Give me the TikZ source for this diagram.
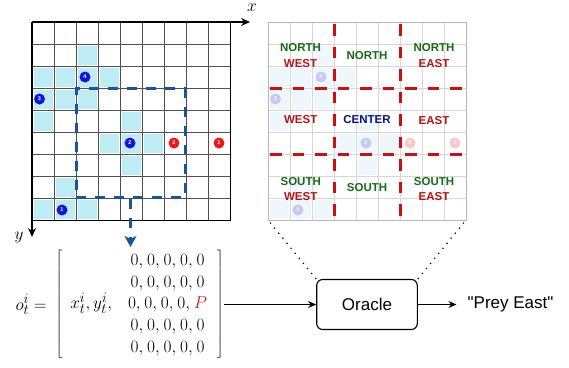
\documentclass[tikz,border=0pt]{standalone}
\usepackage{fontspec}
\setsansfont{Liberation Sans}
\usetikzlibrary{arrows.meta}
\definecolor{cellc}{RGB}{190,236,244}
\definecolor{gridc}{RGB}{80,80,80}
\definecolor{winblue}{RGB}{25,85,155}
\definecolor{agblue}{RGB}{20,20,225}
\definecolor{agred}{RGB}{235,25,25}
\definecolor{fgrid}{RGB}{215,215,215}
\definecolor{fcell}{RGB}{237,247,252}
\definecolor{fblue}{RGB}{200,200,242}
\definecolor{fred}{RGB}{250,200,200}
\definecolor{regred}{RGB}{205,15,15}
\definecolor{labred}{RGB}{185,20,20}
\definecolor{labgreen}{RGB}{25,105,25}
\definecolor{labnavy}{RGB}{15,15,135}
\definecolor{pred}{RGB}{215,25,25}
\newcommand\sq{\XeTeXglyph\XeTeXcharglyph"22\relax}
\newcommand\zrow{0,\mkern1mu 0,\mkern1mu 0,\mkern1mu 0,\mkern1mu 0}
\tikzset{
  agent/.style={circle, inner sep=0pt, minimum size=11pt, text=white, font=\fontsize{5.5}{6}\sffamily\bfseries},
  region/.style={align=center, font=\fontsize{11.5}{15.5}\sffamily\bfseries},
  regline/.style={regred, line width=3pt, dash pattern=on 11.5pt off 11pt},
  winline/.style={winblue, line width=3pt, dash pattern=on 10pt off 9pt},
  conn/.style={line width=1.1pt, -{Stealth[length=8pt,width=7pt]}},
  axisline/.style={line width=1.4pt, -{Stealth[length=9pt,width=8pt]}},
  dotl/.style={line width=1.7pt, dash pattern=on 0pt off 6.5pt, line cap=round},
  mathtxt/.style={inner sep=0pt, font=\fontsize{19}{21.7}\selectfont},
}
\begin{document}
\begin{tikzpicture}[x=1pt,y=-1pt]
\useasboundingbox (0,0) rectangle (569,367);
% ---------- left grid
\begin{scope}[shift={(32,22)}]
  \foreach \c/\r in {2/1,0/2,1/2,2/2,3/2,0/3,1/3,2/3,0/4,4/4,3/5,4/5,5/5,4/6,1/7,0/8,1/8,2/8}
    \fill[cellc] ({22*\c+1.5},{22*\r+1.5}) rectangle ++(19,19);
  \foreach \i in {1,...,8} {
    \draw[gridc, line width=0.8pt] ({22*\i},0) -- ({22*\i},198);
    \draw[gridc, line width=0.8pt] (0,{22*\i}) -- (198,{22*\i});
  }
  \draw[line width=1pt] (198,0) -- (198,198) -- (0,198);
\end{scope}
\coordinate (O) at (32,22);
\coordinate (xe) at (250,22);
\coordinate (ye) at (32,237);
\draw[axisline] (O) -- (xe);
\draw[axisline] (O) -- (ye);
\node[inner sep=0pt] (xl) at (252,8) {\fontsize{18}{20}\selectfont$x$};
\node[inner sep=0pt] (yl) at (19,237) {\fontsize{18}{20}\selectfont$y$};
\node[agent, fill=agblue] (a4) at (85,77) {4};
\node[agent, fill=agblue] (a3) at (39.5,99) {3};
\node[agent, fill=agblue] (a2) at (130,143) {2};
\node[agent, fill=agblue] (a1) at (62,210) {1};
\node[agent, fill=agred] (p2) at (174,143) {2};
\node[agent, fill=agred] (p1) at (219,143) {1};
% observation window
\node[draw=winblue, line width=3pt, dash pattern=on 10pt off 9pt, minimum width=109pt, minimum height=109pt, inner sep=0pt] (win) at (130.5,143.2) {};
\coordinate (wtip) at (130.5,247);
\draw[winline, -{Stealth[length=11pt,width=12pt,inset=3pt]}] (win.south) -- (wtip);
% ---------- right grid (faded)
\begin{scope}[shift={(268,22)}]
  \foreach \c/\r in {2/1,0/2,1/2,2/2,3/2,0/3,1/3,2/3,0/4,4/4,3/5,4/5,5/5,4/6,1/7,0/8,1/8,2/8}
    \fill[fcell] ({22*\c+1.5},{22*\r+1.5}) rectangle ++(19,19);
  \foreach \i in {1,...,8} {
    \draw[fgrid, line width=0.8pt] ({22*\i},0) -- ({22*\i},198);
    \draw[fgrid, line width=0.8pt] (0,{22*\i}) -- (198,{22*\i});
  }
  \draw[fgrid!85!black, line width=0.9pt] (0,0) rectangle (198,198);
\end{scope}
\node[agent, fill=fblue] (fa4) at (321,77) {4};
\node[agent, fill=fblue] (fa3) at (275.5,99) {3};
\node[agent, fill=fblue] (fa2) at (366,143) {2};
\node[agent, fill=fblue] (fa1) at (298,210) {1};
\node[agent, fill=fred] (fp2) at (410,143) {2};
\node[agent, fill=fred] (fp1) at (455,143) {1};
\draw[regline] (334,24) -- (334,220);
\draw[regline] (400,24) -- (400,220);
\draw[regline] (270,88) -- (466,88);
\draw[regline] (270,154) -- (466,154);
\node[region] (nw) at (300.5,55.5) {\textcolor{labgreen}{NORTH}\\\textcolor{labred}{WEST}};
\node[region, text=labgreen] (n) at (367,55.7) {NORTH};
\node[region] (ne) at (434,55.5) {\textcolor{labgreen}{NORTH}\\\textcolor{labred}{EAST}};
\node[region, text=labred] (w) at (300.7,119.3) {WEST};
\node[region, text=labnavy] (c) at (367,119.3) {CENTER};
\node[region, text=labred] (e) at (434,120.5) {EAST};
\node[region] (sw) at (300.7,189) {\textcolor{labgreen}{SOUTH}\\\textcolor{labred}{WEST}};
\node[region, text=labgreen] (s) at (367,188) {SOUTH};
\node[region] (se) at (434,189) {\textcolor{labgreen}{SOUTH}\\\textcolor{labred}{EAST}};
\coordinate (rbl) at (268,220);
\coordinate (rbr) at (466,220);
% ---------- observation, oracle, output
\node[mathtxt, anchor=base] (lhs) at (31,310) {$o_t^i=$};
\node[mathtxt, anchor=east] (obs) at (224,304.5) {%
  $\left[\begin{array}{@{\hspace{8pt}}l@{\hspace{16pt}}c@{\hspace{10pt}}}
  x_t^i, y_t^i, &
  \begin{array}{@{}c@{}}\zrow\\ \zrow\\ 0,\mkern1mu 0,\mkern1mu 0,\mkern1mu 0,\mkern1mu\textcolor{pred}{P}\\ \zrow\\ \zrow\end{array}
  \end{array}\right]$};
\node[draw, rounded corners=6pt, line width=1.1pt, minimum width=100.6pt, minimum height=50pt, font=\fontsize{17}{20}\sffamily] (oracle) at (367,304.5) {Oracle};
\node[anchor=west, inner sep=0pt, font=\fontsize{17}{20}\sffamily] (prey) at (467.5,304.5) {\sq Prey East\sq};
\draw[conn] (obs.east) -- (oracle.west);
\draw[conn, shorten >=11pt] (oracle.east) -- (prey.west);
\draw[dotl, shorten <=4pt] (rbl) -- (oracle.north west);
\draw[dotl, shorten <=4pt] (rbr) -- (oracle.north east);
\end{tikzpicture}
\end{document}
